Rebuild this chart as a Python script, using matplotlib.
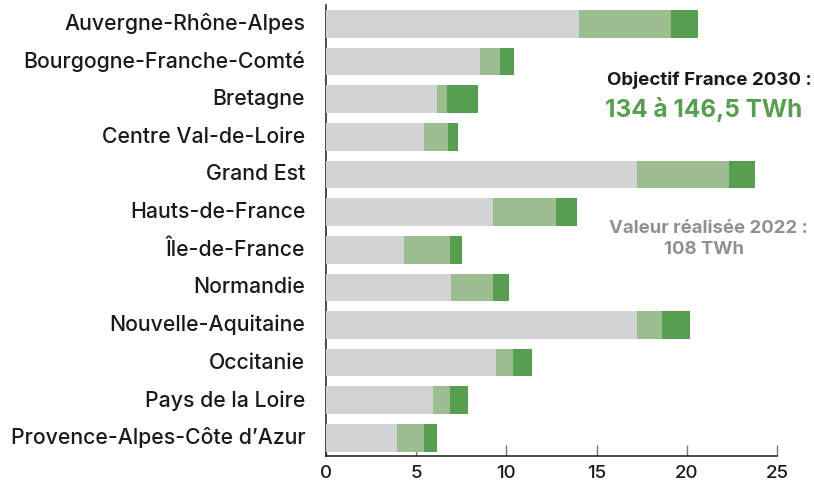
import matplotlib
matplotlib.use("Agg")
import matplotlib.pyplot as plt
import matplotlib.transforms as mtransforms
import numpy as np

plt.rcParams['font.family'] = ['Inter', 'DejaVu Sans']

regions = ["Auvergne-Rhône-Alpes", "Bourgogne-Franche-Comté", "Bretagne",
           "Centre Val-de-Loire", "Grand Est", "Hauts-de-France", "Île-de-France",
           "Normandie", "Nouvelle-Aquitaine", "Occitanie", "Pays de la Loire",
           "Provence-Alpes-Côte d’Azur"]
realise_2022 = [14.04, 8.54, 6.15, 5.43, 17.26, 9.26, 4.32, 6.93, 17.26, 9.43, 5.93, 3.93]
objectif_bas = [19.1, 9.65, 6.7, 6.76, 22.35, 12.76, 6.87, 9.26, 18.65, 10.37, 6.87, 5.43]
objectif_haut = [20.6, 10.43, 8.42, 7.32, 23.76, 13.93, 7.54, 10.15, 20.2, 11.43, 7.87, 6.15]
xticks = [0, 5, 10, 15, 20, 25]

c_gray = "#d1d3d4"
c_light = "#9cbd8f"
c_dark = "#589e50"
c_text = "#1a1a1a"
c_gtext = "#8e9093"

fig = plt.figure(figsize=(8.14, 4.85), dpi=100)
ax = fig.add_axes([326/814, 1-457/485, (777-326)/814, (457-6)/485])

y = np.arange(len(regions))
r = np.array(realise_2022)
lo = np.array(objectif_bas)
hi = np.array(objectif_haut)
h = 0.735
ax.barh(y, r, height=h, color=c_gray, zorder=3)
ax.barh(y, lo - r, left=r, height=h, color=c_light, zorder=3)
ax.barh(y, hi - lo, left=lo, height=h, color=c_dark, zorder=3)

ax.set_ylim(11.48, -0.5)
ax.set_xlim(0, 25)
ax.set_yticks(y)
ax.set_yticklabels(regions, fontsize=15.3, color=c_text, fontweight='medium')
ax.tick_params(axis='y', length=0, pad=15)
offset = mtransforms.ScaledTranslation(0, 3/100, fig.dpi_scale_trans)
for lab in ax.get_yticklabels():
    lab.set_transform(lab.get_transform() + offset)
ax.set_xticks(xticks)
ax.set_xticklabels([str(t) for t in xticks], fontsize=13.5, color=c_text, fontweight='medium')
ax.tick_params(axis='x', direction='in', length=8, width=1, color="#777777", pad=6)
for s in ['top', 'right']:
    ax.spines[s].set_visible(False)
for s in ['left', 'bottom']:
    ax.spines[s].set_color(c_text)
    ax.spines[s].set_linewidth(1.1)
    ax.spines[s].set_zorder(2)

fig.text(709/814, 1-80/485, "Objectif France 2030 :", ha='center', va='center',
         fontsize=13.5, fontweight='bold', color=c_text)
fig.text(704/814, 1-110/485, "134 à 146,5 TWh", ha='center', va='center',
         fontsize=17.5, fontweight='bold', color=c_dark)
fig.text(708/814, 1-229/485, "Valeur réalisée 2022 :", ha='center', va='center',
         fontsize=13.4, fontweight='bold', color=c_gtext)
fig.text(704/814, 1-250/485, "108 TWh", ha='center', va='center',
         fontsize=13.4, fontweight='bold', color=c_gtext)

fig.savefig("out.png", dpi=100)
